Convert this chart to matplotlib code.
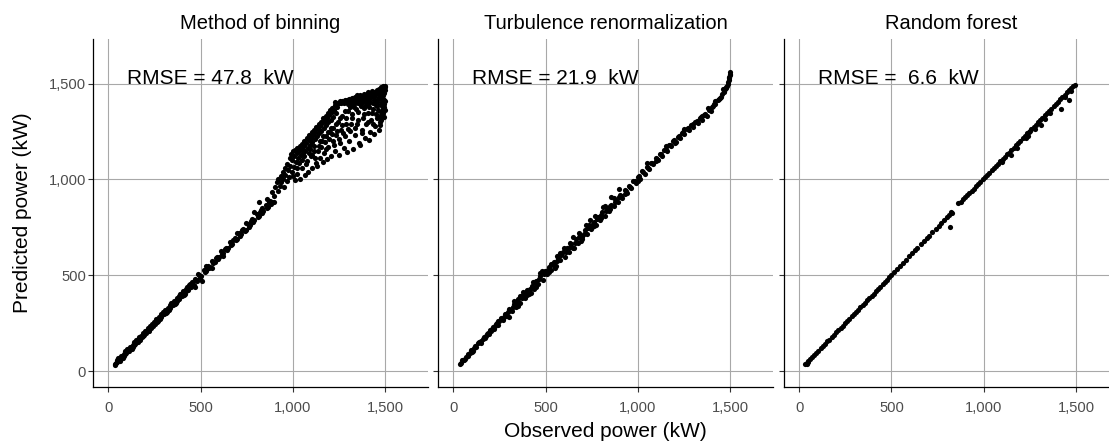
import matplotlib
matplotlib.use("Agg")
import matplotlib.pyplot as plt

plt.rcParams['font.family'] = ['Liberation Sans', 'DejaVu Sans']

titles = ["Method of binning", "Turbulence renormalization", "Random forest"]
rmse_labels = ["RMSE = 47.8  kW", "RMSE = 21.9  kW", "RMSE =  6.6  kW"]
ticks = [0, 500, 1000, 1500]
tick_labels = ["0", "500", "1,000", "1,500"]
x_label = "Observed power (kW)"
y_label = "Predicted power (kW)"

# (observed, predicted) pairs, one list per panel
binning_points = [
    # thin band along the diagonal
    (36, 38), (48, 46), (60, 63), (72, 70), (84, 88), (96, 93), (108, 112), (120, 116),
    (132, 137), (144, 140), (156, 160), (168, 164), (180, 186), (192, 188), (204, 210),
    (216, 211), (228, 234), (240, 236), (252, 258), (264, 259), (276, 283), (288, 282),
    (300, 307), (312, 305), (324, 332), (336, 330), (348, 356), (360, 352), (372, 381),
    (384, 376), (396, 405), (408, 399), (420, 430), (432, 421), (444, 455), (456, 447),
    (468, 480), (480, 470),
    (42, 44), (66, 66), (90, 90), (114, 114), (138, 138), (162, 162), (186, 186),
    (210, 208), (234, 232), (258, 256), (282, 280), (306, 302), (330, 326), (354, 350),
    (378, 374), (402, 398), (426, 422), (450, 446), (474, 476),
    (54, 67), (78, 68), (102, 115), (126, 116), (150, 163), (174, 164), (198, 211),
    (222, 212), (246, 259), (270, 260), (294, 307), (318, 308), (342, 355), (366, 356),
    (390, 403), (414, 404), (438, 451), (462, 452),
    (39, 30), (63, 55), (87, 80), (111, 104), (135, 128), (159, 152), (183, 176),
    (207, 200), (231, 224), (255, 248), (279, 272), (303, 296), (327, 320), (351, 344),
    (375, 368), (399, 392), (423, 416), (447, 440),
    (45, 56), (69, 80), (93, 104), (117, 128), (141, 152), (165, 176), (189, 200),
    (213, 224), (237, 248), (261, 272), (285, 296), (309, 320), (333, 344), (357, 368),
    (381, 392), (405, 416), (429, 440), (453, 464),
    (492, 500), (504, 495), (516, 528), (528, 520), (540, 548), (552, 545), (564, 575),
    (576, 570), (588, 598), (600, 594), (612, 625), (624, 618), (636, 645), (648, 640),
    (660, 672), (672, 665), (684, 694), (696, 688), (708, 720), (720, 714), (732, 742),
    (744, 738), (756, 770), (768, 760), (780, 795), (792, 786), (804, 820), (816, 810),
    (828, 840), (840, 834), (852, 866), (864, 858), (876, 890), (888, 880), (900, 912),
    (498, 488), (522, 515), (546, 538), (570, 562), (594, 586), (618, 610), (642, 634),
    (666, 658), (690, 682), (714, 706), (738, 730), (762, 754), (786, 778), (810, 802),
    (834, 826), (858, 850), (882, 872),
    (486, 505), (534, 540), (582, 590), (630, 636), (678, 685), (726, 735), (774, 785),
    (822, 832), (870, 880),
    (560, 540), (620, 600), (700, 722), (745, 775), (790, 830), (815, 883), (835, 852),
    (860, 900), (885, 935), (900, 880), (510, 470), (530, 550), (470, 440),
    # upper ridge of the fan
    (905, 960), (912, 985), (918, 940), (922, 1002), (928, 965), (934, 1020), (938, 985),
    (945, 1040), (948, 1005), (953, 960), (957, 1060), (960, 1025), (966, 990),
    (970, 1082), (973, 1050), (978, 1015), (982, 1110), (985, 1072), (990, 1135),
    (993, 1040), (997, 1100), (1000, 1150), (1004, 1065), (1008, 1122), (1012, 1155),
    (1016, 1090), (1020, 1138), (1025, 1162), (1029, 1110), (1033, 1150), (1038, 1172),
    (1042, 1128), (1047, 1160), (1051, 1185), (1055, 1140), (1059, 1172), (1063, 1200),
    (1068, 1150), (1072, 1188), (1076, 1215), (1080, 1165), (1085, 1205), (1089, 1232),
    (1093, 1180), (1097, 1218), (1102, 1245), (1106, 1195), (1110, 1232), (1114, 1258),
    (1118, 1210), (1122, 1248), (1127, 1272), (1131, 1225), (1135, 1262), (1139, 1288),
    (1143, 1240), (1147, 1278), (1151, 1302), (1155, 1255), (1160, 1292), (1164, 1318),
    (1168, 1268), (1172, 1305), (1177, 1332), (1181, 1282), (1185, 1320), (1189, 1346),
    (1193, 1298), (1197, 1334), (1201, 1360), (1205, 1312), (1210, 1350), (1214, 1375),
    (1218, 1328), (1222, 1362), (1226, 1390), (1230, 1402), (1234, 1345), (1238, 1378),
    (1242, 1400),
    # middle and sparse lower part of the fan
    (1000, 1020), (1020, 1060), (1035, 1085), (1050, 1100), (1060, 1120), (1070, 1080),
    (1085, 1140), (1095, 1160), (1105, 1130), (1115, 1175), (1120, 1110), (1135, 1150),
    (1145, 1200), (1152, 1170), (1165, 1225), (1172, 1195), (1180, 1160), (1190, 1250),
    (1198, 1210), (1205, 1270), (1212, 1235), (1222, 1180), (1232, 1290), (1240, 1255),
    (1248, 1210), (1258, 1320), (1265, 1285), (1272, 1240), (1280, 1355), (1290, 1320),
    (1298, 1265), (1308, 1380), (1315, 1290), (1322, 1340), (1335, 1270), (1342, 1365),
    (1355, 1310), (1368, 1385), (1375, 1240), (1388, 1340), (1395, 1390), (1408, 1300),
    (1415, 1380), (1428, 1345), (1436, 1290), (1448, 1390), (1455, 1320), (1462, 1360),
    (1475, 1420), (1470, 1330),
    (1010, 995), (1025, 1030), (1040, 1005), (1052, 1060), (1065, 1025), (1075, 1095),
    (1082, 1040), (1096, 1120), (1104, 1060), (1112, 1150), (1125, 1085), (1130, 1070),
    (1140, 1175), (1148, 1110), (1158, 1200), (1162, 1090), (1170, 1140), (1178, 1225),
    (1186, 1105), (1192, 1170), (1200, 1245), (1208, 1125), (1215, 1200), (1220, 1270),
    (1228, 1150), (1236, 1230), (1245, 1300), (1250, 1130), (1255, 1190), (1262, 1260),
    (1268, 1330), (1275, 1165), (1282, 1225), (1288, 1290), (1293, 1144), (1296, 1355),
    (1304, 1200), (1310, 1255), (1318, 1320), (1325, 1160), (1332, 1380), (1338, 1230),
    (1345, 1290), (1352, 1350), (1360, 1190), (1365, 1179), (1372, 1260), (1378, 1320),
    (1385, 1375), (1392, 1215), (1398, 1290), (1405, 1345), (1410, 1205), (1418, 1250),
    (1425, 1310), (1432, 1370), (1440, 1235), (1446, 1280), (1452, 1340), (1458, 1385),
    (1465, 1260), (1470, 1300), (1473, 1283), (1478, 1350),
    # dense cluster near the rated power
    (1250, 1398), (1255, 1408), (1262, 1400), (1268, 1410), (1275, 1398), (1280, 1412),
    (1286, 1402), (1292, 1415), (1298, 1395), (1300, 1405), (1304, 1420), (1310, 1400),
    (1314, 1412), (1318, 1425), (1322, 1395), (1326, 1408), (1330, 1420), (1334, 1432),
    (1338, 1398), (1342, 1412), (1346, 1425), (1350, 1438), (1354, 1400), (1358, 1415),
    (1362, 1428), (1366, 1442), (1370, 1395), (1374, 1408), (1378, 1420), (1382, 1434),
    (1386, 1448), (1390, 1402), (1394, 1415), (1398, 1428), (1402, 1440), (1406, 1455),
    (1410, 1398), (1414, 1410), (1418, 1424), (1422, 1437), (1426, 1450), (1430, 1460),
    (1434, 1400), (1438, 1414), (1442, 1428), (1446, 1442), (1450, 1455), (1454, 1466),
    (1458, 1402), (1462, 1418), (1466, 1432), (1470, 1446), (1474, 1460), (1478, 1472),
    (1482, 1405), (1486, 1422), (1490, 1438), (1494, 1452), (1497, 1466), (1499, 1480),
    (1500, 1490),
    (1480, 1310), (1485, 1330), (1490, 1345), (1495, 1325), (1488, 1365), (1496, 1380),
    (1492, 1395), (1484, 1385), (1498, 1360), (1476, 1395), (1499, 1410), (1493, 1415),
    (1487, 1448), (1483, 1465), (1495, 1475), (1491, 1485), (1480, 1480), (1468, 1470),
    (1460, 1450), (1445, 1455), (1425, 1440), (1405, 1430), (1385, 1425), (1365, 1418),
    (1345, 1415), (1325, 1410), (1305, 1412),
]

turbulence_points = [
    (36, 40), (44, 44), (52, 56), (60, 60), (70, 76), (80, 80), (90, 97), (100, 100),
    (112, 120), (124, 124), (136, 145), (148, 148), (160, 170), (172, 172), (184, 196),
    (196, 195), (208, 222), (220, 218), (232, 248), (244, 242), (256, 272), (268, 266),
    (280, 298), (292, 288), (304, 325), (316, 314), (328, 350), (340, 336), (352, 374),
    (364, 358), (376, 398), (388, 384), (400, 425), (412, 405), (424, 445), (436, 430),
    (448, 470), (460, 455), (472, 496), (484, 478), (496, 522), (508, 505), (520, 545),
    (532, 530), (544, 570), (556, 550), (568, 592), (580, 578), (592, 620), (604, 595),
    (616, 640), (628, 620), (640, 665), (652, 645), (664, 688), (676, 670), (688, 712),
    (700, 690), (712, 735), (724, 718), (736, 760), (748, 740), (760, 780), (772, 765),
    (784, 805), (796, 788), (808, 830), (820, 812), (832, 850), (844, 835), (856, 866),
    (868, 862), (880, 895), (892, 885), (904, 920), (916, 905), (928, 945), (940, 932),
    (952, 965), (964, 958), (976, 992), (988, 982), (1000, 1015), (1012, 1005),
    (1024, 1042), (1036, 1030), (1048, 1065), (1060, 1055), (1072, 1088), (1084, 1080),
    (1096, 1110), (1108, 1104), (1120, 1135), (1132, 1125), (1144, 1155), (1156, 1150),
    (1168, 1178), (1180, 1172), (1192, 1200), (1204, 1196), (1216, 1222), (1228, 1218),
    (1240, 1242), (1252, 1238), (1264, 1262), (1276, 1256), (1288, 1282), (1300, 1275),
    (1312, 1300), (1324, 1292), (1336, 1318), (1348, 1310), (1360, 1338), (1372, 1332),
    (1384, 1360), (1396, 1358), (1408, 1385), (1420, 1392), (1432, 1412), (1444, 1425),
    (1456, 1445), (1464, 1455), (1472, 1470), (1480, 1480), (1486, 1498), (1490, 1510),
    (1494, 1528), (1497, 1545), (1499, 1560),
    (150, 158), (176, 184), (202, 210), (226, 235), (250, 260), (274, 284),
    (298, 310), (322, 334), (346, 362), (370, 380), (394, 412), (418, 428), (442, 460),
    (466, 480), (490, 505), (514, 530), (538, 552), (562, 575), (586, 605), (610, 622),
    (634, 650), (658, 668), (682, 700), (706, 715), (730, 745), (754, 765), (778, 792),
    (802, 815), (826, 838), (850, 862), (874, 880), (898, 908),
    (910, 915), (934, 940), (958, 962), (982, 990), (1006, 1020), (1030, 1038),
    (1054, 1062), (1078, 1085), (1102, 1108), (1126, 1132), (1150, 1160), (1174, 1180),
    (1198, 1205), (1222, 1228), (1246, 1250), (1270, 1268), (1294, 1285), (1318, 1305),
    (1342, 1325), (1366, 1342), (1390, 1368), (1414, 1395), (1438, 1420), (1450, 1432),
    (1468, 1462), (1476, 1476), (1484, 1490), (1492, 1520), (1496, 1535), (1498, 1552),
    (240, 262), (300, 285), (360, 390), (420, 410), (470, 510), (520, 515), (560, 600),
    (600, 640), (650, 700), (690, 680), (740, 790), (760, 755), (810, 855), (857, 909),
    (900, 950), (930, 925), (1050, 1085), (1150, 1175), (1250, 1265), (1420, 1410),
    (1460, 1470),
    (330, 365), (380, 415), (430, 465), (480, 520), (530, 560), (580, 615), (630, 670),
    (680, 720), (720, 760), (770, 810), (820, 860), (870, 905), (350, 340), (400, 395),
    (450, 440), (550, 540), (650, 640), (700, 700), (750, 750), (800, 800), (850, 845),
    (200, 215), (260, 280), (120, 130), (80, 90), (1000, 990), (1100, 1095),
    (1200, 1190), (1300, 1290), (1350, 1330), (1400, 1380), (1380, 1375),
    (48, 58), (64, 62), (96, 110), (108, 106), (140, 150), (168, 180), (190, 200),
    (214, 230), (238, 250), (262, 270), (286, 300),
]

forest_points = [
    (31, 40), (40, 44), (50, 54), (60, 62), (70, 73), (80, 82), (92, 95), (104, 106),
    (116, 119), (128, 130), (140, 142), (152, 155), (164, 165), (176, 178), (188, 190),
    (200, 202), (212, 214), (224, 226), (236, 238), (248, 250), (260, 262), (272, 273),
    (284, 286), (296, 298), (308, 310), (320, 321), (332, 334), (344, 346), (356, 358),
    (368, 369), (380, 382), (392, 394), (404, 405), (416, 418), (428, 430), (440, 441),
    (452, 454), (464, 466), (476, 478), (488, 490), (500, 502), (515, 518), (530, 533),
    (548, 550), (562, 566), (580, 580), (596, 600), (612, 614), (628, 632), (640, 640),
    (660, 664), (676, 678), (690, 693), (705, 706), (722, 724), (740, 743), (755, 756),
    (770, 775), (785, 790), (800, 803), (812, 815), (820, 832), (826, 825), (815, 753),
    (862, 875), (874, 885), (886, 896), (898, 908), (910, 918), (922, 930), (934, 942),
    (946, 952), (958, 965), (970, 975), (982, 988), (994, 1000), (1006, 1012),
    (1018, 1022), (1030, 1035), (1042, 1048), (1054, 1058), (1066, 1070), (1078, 1082),
    (1090, 1094), (1102, 1105), (1114, 1118), (1126, 1132), (1138, 1140), (1150, 1156),
    (1162, 1164), (1174, 1180), (1186, 1190), (1198, 1202), (1210, 1214), (1222, 1226),
    (1234, 1240), (1246, 1250), (1258, 1262), (1270, 1274), (1282, 1286), (1294, 1298),
    (1306, 1310), (1318, 1322), (1330, 1334), (1342, 1346), (1354, 1358), (1366, 1370),
    (1378, 1382), (1390, 1394), (1402, 1406), (1414, 1418), (1426, 1430), (1438, 1442),
    (1450, 1454), (1462, 1466), (1474, 1476), (1486, 1488), (1496, 1492),
    (1150, 1130), (1180, 1165), (1230, 1215), (1250, 1252), (1280, 1265), (1311, 1283),
    (1330, 1315), (1360, 1345), (1419, 1370), (1464, 1413), (1440, 1430), (1470, 1460),
    (1240, 1225), (1100, 1090), (44, 38), (50, 48),
]

panels = [binning_points, turbulence_points, forest_points]

fig = plt.figure(figsize=(11.09, 4.42), dpi=100)
lefts = [0.0839, 0.3950, 0.7069]
axes = [fig.add_axes([l, 0.1244, 0.3021, 0.7873]) for l in lefts]

for i, (ax, pts) in enumerate(zip(axes, panels)):
    obs = [p[0] for p in pts]
    pred = [p[1] for p in pts]
    ax.scatter(obs, pred, s=14, c='black', linewidths=0, zorder=3)
    ax.set_xlim(-82.5, 1732.5)
    ax.set_ylim(-82.5, 1732.5)
    ax.set_xticks(ticks)
    ax.set_yticks(ticks)
    ax.set_xticklabels(tick_labels)
    if i == 0:
        ax.set_yticklabels(tick_labels)
    else:
        ax.set_yticklabels([])
    ax.grid(True, color='#a8a8a8', linewidth=0.8)
    ax.set_axisbelow(True)
    for side in ('top', 'right'):
        ax.spines[side].set_visible(False)
    for side in ('left', 'bottom'):
        ax.spines[side].set_linewidth(0.9)
        ax.spines[side].set_color('black')
    ax.tick_params(axis='both', length=3.6, width=0.8, color='#333333',
                   labelsize=10.6, labelcolor='#4d4d4d')
    ax.tick_params(axis='x', pad=6.5)
    ax.tick_params(axis='y', pad=1.5)
    ax.set_title(titles[i], fontsize=14.5, pad=7.5)
    ax.text(100, 1500, rmse_labels[i], fontsize=15, ha='left', va='baseline',
            zorder=4)

fig.text(605.5 / 1109, 0.0113, x_label, fontsize=15, ha='center', va='baseline')
fig.text(0.0203, 0.518, y_label, fontsize=15, rotation=90,
         ha='center', va='center')

fig.savefig('out.png', dpi=100)
